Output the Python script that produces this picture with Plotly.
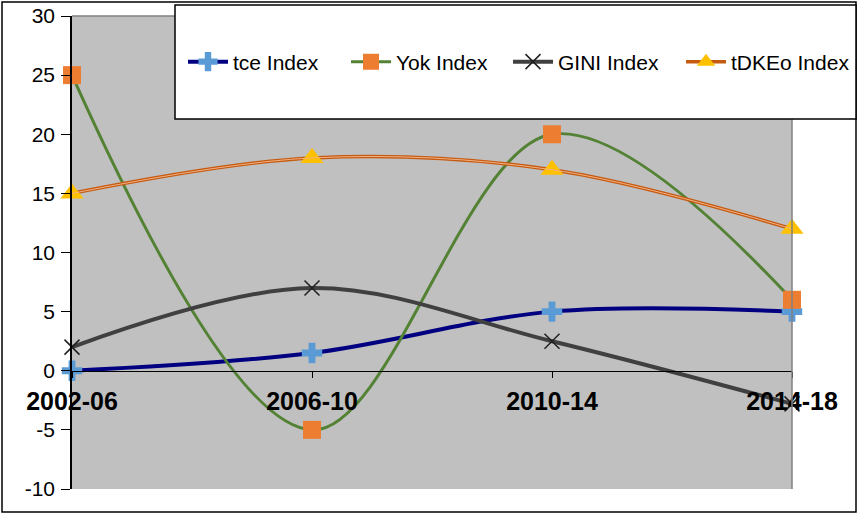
import plotly.graph_objects as go

periods = ['2002-06', '2006-10', '2010-14', '2014-18']
tce = [0, 1.5, 5, 5]
yok = [25, -5, 20, 6]
gini = [2, 7, 2.5, -2.8]
tdkeo = [15, 18, 17, 12]
y_ticks = [-10, -5, 0, 5, 10, 15, 20, 25, 30]
y_tick_labels = ['-10', '-5', '0', '5', '10', '15', '20', '25', '30']

W, H = 858, 515
L, R, T, B = 72, 66, 16, 26
pw, ph = W - L - R, H - T - B


def px_x(p):
    return (p - L) / pw


def px_y(p):
    return (H - B - p) / ph


fig = go.Figure()

fig.add_trace(go.Scatter(
    x=periods, y=tce, name='tce Index', mode='lines+markers', legend='legend',
    line=dict(color='#000080', width=4, shape='spline', smoothing=1),
    marker=dict(symbol='cross', size=17, color='#5B9BD5'),
    cliponaxis=False))
fig.add_trace(go.Scatter(
    x=periods, y=yok, name='Yok Index', mode='lines+markers', legend='legend2',
    line=dict(color='#548235', width=3, shape='spline', smoothing=1),
    marker=dict(symbol='square', size=18, color='#ED7D31'),
    cliponaxis=False))
fig.add_trace(go.Scatter(
    x=periods, y=gini, name='GINI Index', mode='lines+markers', legend='legend3',
    line=dict(color='#404040', width=4, shape='spline', smoothing=1),
    marker=dict(symbol='x-thin', size=15, color='#202020',
                line=dict(color='#202020', width=1.5)),
    cliponaxis=False))
fig.add_trace(go.Scatter(
    x=periods, y=tdkeo, name='tDKEo Index', mode='lines+markers', legend='legend4',
    line=dict(color='#C55A11', width=3.5, shape='spline', smoothing=1),
    marker=dict(symbol='triangle-up', size=20, color='#FFC000'),
    cliponaxis=False))
# lighter core of the orange line
fig.add_trace(go.Scatter(
    x=periods, y=tdkeo, mode='lines', showlegend=False, hoverinfo='skip',
    line=dict(color='#F4B183', width=1, shape='spline', smoothing=1),
    cliponaxis=False))

shapes = [
    # outer frame
    dict(type='rect', xref='paper', yref='paper',
         x0=px_x(2), x1=px_x(856), y0=px_y(512), y1=px_y(2),
         line=dict(color='black', width=1.5), layer='below'),
    # plot area top and right edges
    dict(type='line', xref='paper', yref='paper', x0=0, x1=1, y0=1, y1=1,
         line=dict(color='#808080', width=1.5)),
    dict(type='line', xref='paper', yref='paper', x0=1, x1=1, y0=0, y1=1,
         line=dict(color='#808080', width=1.5)),
    # legend box
    dict(type='rect', xref='paper', yref='paper',
         x0=px_x(175), x1=px_x(856), y0=px_y(119), y1=px_y(5),
         fillcolor='white', line=dict(color='black', width=1.5), layer='above'),
]


def legend_at(left):
    return dict(x=px_x(left), y=px_y(62), xanchor='left', yanchor='middle',
                orientation='h', bgcolor='rgba(0,0,0,0)', font=dict(size=21),
                itemwidth=40)


fig.update_layout(
    width=W, height=H,
    margin=dict(l=L, r=R, t=T, b=B, autoexpand=False),
    paper_bgcolor='white',
    plot_bgcolor='#C0C0C0',
    font=dict(family='Liberation Sans, Arial, sans-serif', color='black'),
    shapes=shapes,
    showlegend=True,
    legend=legend_at(183),
    legend2=legend_at(346),
    legend3=legend_at(508),
    legend4=legend_at(681),
    xaxis=dict(type='category', range=[0, 3], anchor='free', position=0.25,
               automargin=False,
               showline=True, linecolor='black', linewidth=1,
               ticks='outside', ticklen=6, tickcolor='black',
               ticklabelstandoff=2,
               tickfont=dict(size=25, family='Liberation Sans, Arial, sans-serif',
                             weight='bold'),
               showgrid=False, zeroline=False),
    yaxis=dict(range=[-10, 30], tickvals=y_ticks, ticktext=y_tick_labels,
               automargin=False,
               showline=True, linecolor='black', linewidth=1.5,
               ticks='outside', ticklen=9, tickcolor='black',
               ticklabelstandoff=2,
               tickfont=dict(size=21), showgrid=False, zeroline=False),
)

fig.write_html('out.html', config={'displayModeBar': False},
               post_script="document.body.style.margin='0';document.body.style.overflow='hidden';")
